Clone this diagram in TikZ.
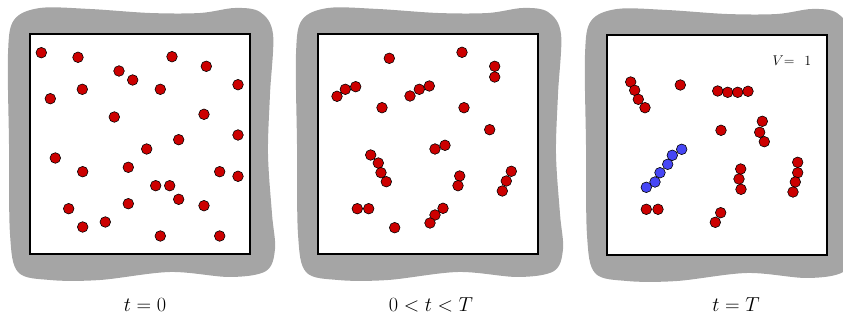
\documentclass[tikz,border=0pt]{standalone}
\usetikzlibrary{positioning}

\tikzset{
    particle/.style={draw=black, fill=partRed, line width=0.5pt},
    tracer/.style={draw=black, fill=partBlue, line width=0.5pt},
    caption/.style={font=\fontsize{16}{19}\selectfont, anchor=center}
}

% Wavy gray frame round a box whose top-left corner is at (#1,#2)
\newcommand{\wavyframe}[2]{%
    \fill[frameGray, shift={(#1,#2)}] plot[smooth cycle, tension=0.55] coordinates {
        (-16,-14) (10,-26) (60,-25) (120,-21) (170,-21) (205,-26) (230,-22)
        (243,0) (240,60) (238,120) (242,180) (245,215) (236,237)
        (200,243) (140,238) (70,246) (20,246) (-12,238)
        (-20,200) (-21,110) (-22,20)};
    \draw[fill=white, draw=black, line width=1.3pt, shift={(#1,#2)}] (0,0) rectangle (220,220);
}

\begin{document}
\begin{tikzpicture}[x=0.3mm, y=-0.3mm]
    % Define dot size
    \def\dotRadius{5.3}

    \definecolor{frameGray}{HTML}{A5A5A5}
    \definecolor{partRed}{HTML}{CC0000}
    \definecolor{partBlue}{HTML}{4646F5}

    \useasboundingbox (0,0) rectangle (843,320);

    % Draw the three containers
    \wavyframe{30}{34}
    \wavyframe{318}{34}
    \wavyframe{607}{35}

    % Particles at t = 0
    \foreach \x/\y in {41.3/52.7, 78/57.3, 172/56.7, 206.3/66.3, 119/71, 132.7/80,
        160.3/89.3, 238/84.7, 82.3/89.3, 50.3/98.7, 114.3/117, 204/114.3,
        238/135, 178.7/139.7, 146.7/149, 55.3/158, 128.3/167.3, 82.7/171.7,
        219.7/171.7, 238/176.3, 155.7/185.7, 169.7/185.7, 178.7/199.3,
        128.3/203.7, 204/205.7, 68.7/208.7, 105.3/222, 82.7/227, 160.3/236,
        219.7/236}
        \draw[particle] (\x,\y) circle (\dotRadius);

    % Particles at 0 < t < T
    \foreach \x/\y in {389.3/58.3, 462/52.3, 494.7/66.3, 494.7/77, 337/96.3,
        345.3/89.3, 355.7/86.7, 410/96, 419.3/89.3, 429.3/86, 382/107.7,
        464/107.7, 489.7/129.7, 435/149, 445/145.3, 370.7/155, 378.3/163,
        381/172.7, 386.3/181.7, 459.7/176, 458/185.7, 511.3/171.3,
        506.3/181, 502.3/191, 357.3/208.7, 368.7/208.7, 443/208.3,
        435/215, 430/223, 394.7/227.7}
        \draw[particle] (\x,\y) circle (\dotRadius);

    % Particles at t = T
    \foreach \x/\y in {630.7/82, 634.7/90.3, 638.3/99.3, 645/107.7, 680.3/85,
        717.7/91, 727.7/92.3, 737.7/92.3, 748/91.3, 721/130.3, 762.3/121.3,
        759.7/132.3, 764.3/141.7, 740.7/169, 739/179, 741/189.3,
        797.7/162.3, 797.7/172.7, 795.3/182, 793/192, 646.3/209.3,
        658/209.3, 720.7/212.7, 715.3/222.3}
        \draw[particle] (\x,\y) circle (\dotRadius);

    % Tracked cluster
    \foreach \x/\y in {681.7/149.3, 672.3/155.3, 667.7/164.3, 660/172.7,
        655/182, 646.3/187.3}
        \draw[tracer] (\x,\y) circle (\dotRadius);

    % Volume label
    \node[font=\fontsize{13}{15}\selectfont] (vol) at (792,61) {$V{=}\ \ 1$};

    % Captions
    \node[caption] (capA) at (145,305) {$t=0$};
    \node[caption] (capB) at (431,305) {$0<t<T$};
    \node[caption] (capC) at (736,305) {$t=T$};

\end{tikzpicture}
\end{document}
